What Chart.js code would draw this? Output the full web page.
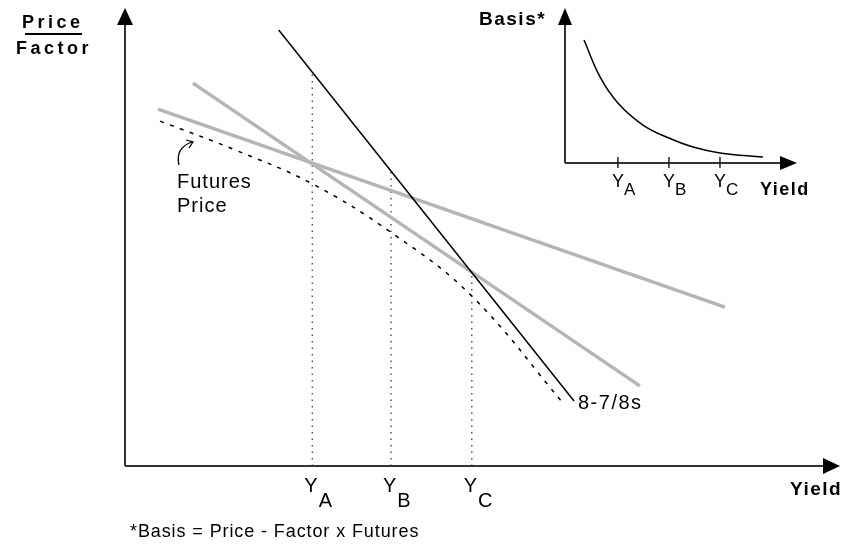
<!DOCTYPE html>
<html>
<head>
<meta charset="utf-8">
<script src="https://cdn.jsdelivr.net/npm/chart.js@4"></script>
<style>
  html, body { margin: 0; padding: 0; background: #fff; }
  #wrap { position: relative; width: 854px; height: 544px; }
  #wrap canvas { position: absolute; left: 0; top: 0; }
  #basisChart { pointer-events: none; }
</style>
</head>
<body>
<div id="wrap">
  <canvas id="mainChart" width="854" height="544"></canvas>
  <canvas id="basisChart" width="854" height="544"></canvas>
</div>
<script>
// main diagram: yield on x (0-100), price/factor on y (0-100)
var yieldTicks = [26.2, 37.2, 48.5];
var tickNames = ['A', 'B', 'C'];
var bondX = [21.5, 62.8];            // 8-7/8s
var bondY = [95.2, 14.2];
var grayAX = [9.5, 72.0];
var grayAY = [83.6, 17.5];
var grayBX = [4.6, 83.9];
var grayBY = [77.9, 34.7];
var futuresX = [4.9, 15.4, 26.2, 37.3, 48.5, 61.5];
var futuresY = [75.3, 69.0, 61.6, 50.9, 37.1, 13.3];
var dropTops = [86.2, 64.4, 42.4];

// inset: basis vs yield
var basisTicks = [22.8, 44.8, 66.8];
var basisX = [8.2, 15.1, 22.8, 33.6, 44.8, 55.2, 66.8, 85.3];
var basisY = [79.4, 55.5, 38.7, 24.5, 16.1, 10.3, 6.5, 3.9];

var FONT = '"Liberation Sans", Arial, Helvetica, sans-serif';

function pts(xs, ys) {
  return xs.map(function (x, i) { return { x: x, y: ys[i] }; });
}

function arrowUp(ctx, x, y, half, len) {
  ctx.beginPath();
  ctx.moveTo(x, y);
  ctx.lineTo(x - half, y + len);
  ctx.lineTo(x + half, y + len);
  ctx.closePath();
  ctx.fill();
}
function arrowRight(ctx, x, y, half, len) {
  ctx.beginPath();
  ctx.moveTo(x, y);
  ctx.lineTo(x - len, y - half);
  ctx.lineTo(x - len, y + half);
  ctx.closePath();
  ctx.fill();
}

function drawAxes(ctx, a, lw, half, len) {
  ctx.save();
  ctx.strokeStyle = '#333';
  ctx.fillStyle = '#000';
  ctx.lineWidth = lw;
  ctx.beginPath();
  ctx.moveTo(a.left, a.bottom);
  ctx.lineTo(a.left, a.top + len - 1);
  ctx.moveTo(a.left, a.bottom);
  ctx.lineTo(a.right - len + 1, a.bottom);
  ctx.stroke();
  arrowUp(ctx, a.left, a.top, half, len);
  arrowRight(ctx, a.right, a.bottom, half, len);
  ctx.restore();
}

var mainDecor = {
  id: 'mainDecor',
  afterDraw: function (chart) {
    var ctx = chart.ctx, a = chart.chartArea, xs = chart.scales.x;
    drawAxes(ctx, a, 2, 8, 17);
    ctx.save();
    ctx.fillStyle = '#000';
    ctx.textBaseline = 'alphabetic';

    // Y_A, Y_B, Y_C under the axis
    yieldTicks.forEach(function (v, i) {
      var px = xs.getPixelForValue(v);
      ctx.font = '20px ' + FONT;
      ctx.fillText('Y', px - 8, a.bottom + 26);
      var w = ctx.measureText('Y').width;
      ctx.fillText(tickNames[i], px - 8 + w + 1, a.bottom + 41);
    });

    // axis titles
    ctx.font = 'bold 18px ' + FONT;
    ctx.letterSpacing = '3.5px';
    ctx.fillText('Price', 22, 28);
    ctx.fillText('Factor', 16, 54);
    ctx.font = 'bold 19px ' + FONT;
    ctx.letterSpacing = '1.5px';
    ctx.fillText('Yield', 790, 495);
    ctx.letterSpacing = '0px';
    ctx.lineWidth = 2;
    ctx.strokeStyle = '#000';
    ctx.beginPath();
    ctx.moveTo(25, 34);
    ctx.lineTo(82, 34);
    ctx.stroke();

    // labels
    ctx.font = '20px ' + FONT;
    ctx.letterSpacing = '1px';
    ctx.fillText('Futures', 177, 188);
    ctx.fillText('Price', 177, 212);
    ctx.font = '20px ' + FONT;
    ctx.letterSpacing = '1.5px';
    ctx.fillText('8-7/8s', 578, 409);
    ctx.font = '18px ' + FONT;
    ctx.letterSpacing = '0.9px';
    ctx.fillText('*Basis = Price - Factor x Futures', 130, 537);
    ctx.letterSpacing = '0px';

    // little curved pointer to the futures curve
    ctx.lineWidth = 1.3;
    ctx.beginPath();
    ctx.moveTo(179, 165);
    ctx.quadraticCurveTo(175, 148, 192, 142);
    ctx.stroke();
    ctx.beginPath();
    ctx.moveTo(186, 140);
    ctx.lineTo(193, 142);
    ctx.lineTo(189, 148);
    ctx.stroke();
    ctx.restore();
  }
};

var insetDecor = {
  id: 'insetDecor',
  afterDraw: function (chart) {
    var ctx = chart.ctx, a = chart.chartArea, xs = chart.scales.x;
    drawAxes(ctx, a, 2, 7, 17);
    ctx.save();
    ctx.fillStyle = '#000';
    ctx.strokeStyle = '#222';
    ctx.lineWidth = 1.5;
    basisTicks.forEach(function (v, i) {
      var px = xs.getPixelForValue(v);
      ctx.beginPath();
      ctx.moveTo(px, a.bottom - 6);
      ctx.lineTo(px, a.bottom + 5);
      ctx.stroke();
      ctx.font = '18px ' + FONT;
      ctx.fillText('Y', px - 6, a.bottom + 24);
      var w = ctx.measureText('Y').width;
      ctx.font = '17px ' + FONT;
      ctx.fillText(tickNames[i], px - 6 + w, a.bottom + 32);
    });
    ctx.font = 'bold 19px ' + FONT;
    ctx.letterSpacing = '1.5px';
    ctx.fillText('Basis*', 479, 25);
    ctx.font = 'bold 18px ' + FONT;
    ctx.letterSpacing = '1.5px';
    ctx.fillText('Yield', 760, 195);
    ctx.restore();
  }
};

function lineSet(data, color, width, dash, order) {
  return {
    data: data,
    borderColor: color,
    borderWidth: width,
    borderDash: dash || [],
    pointRadius: 0,
    fill: false,
    order: order
  };
}

var mainSets = [
  lineSet(pts(bondX, bondY), '#000', 1.5, null, 0),
  lineSet(pts(grayAX, grayAY), '#b5b5b5', 3.5, null, 1),
  lineSet(pts(grayBX, grayBY), '#b5b5b5', 3.5, null, 2),
  Object.assign(lineSet(pts(futuresX, futuresY), '#000', 1.5, [4, 6.5], 3),
    { tension: 0.4 })
];
yieldTicks.forEach(function (v, i) {
  mainSets.push(lineSet([{ x: v, y: 0 }, { x: v, y: dropTops[i] }], '#555', 1.5, [1.5, 5], 4));
});

new Chart(document.getElementById('mainChart'), {
  type: 'line',
  data: { datasets: mainSets },
  options: {
    responsive: false,
    animation: false,
    layout: { padding: { left: 125, right: 14, top: 8, bottom: 78 } },
    scales: {
      x: { type: 'linear', min: 0, max: 100, display: false },
      y: { type: 'linear', min: 0, max: 100, display: false }
    },
    plugins: { legend: { display: false }, tooltip: { enabled: false } }
  },
  plugins: [mainDecor]
});

new Chart(document.getElementById('basisChart'), {
  type: 'line',
  data: {
    datasets: [
      Object.assign(lineSet(pts(basisX, basisY), '#000', 1.5, null, 0),
        { tension: 0.4 })
    ]
  },
  options: {
    responsive: false,
    animation: false,
    layout: { padding: { left: 565, right: 57, top: 8, bottom: 381 } },
    scales: {
      x: { type: 'linear', min: 0, max: 100, display: false },
      y: { type: 'linear', min: 0, max: 100, display: false }
    },
    plugins: { legend: { display: false }, tooltip: { enabled: false } }
  },
  plugins: [insetDecor]
});
</script>
</body>
</html>
